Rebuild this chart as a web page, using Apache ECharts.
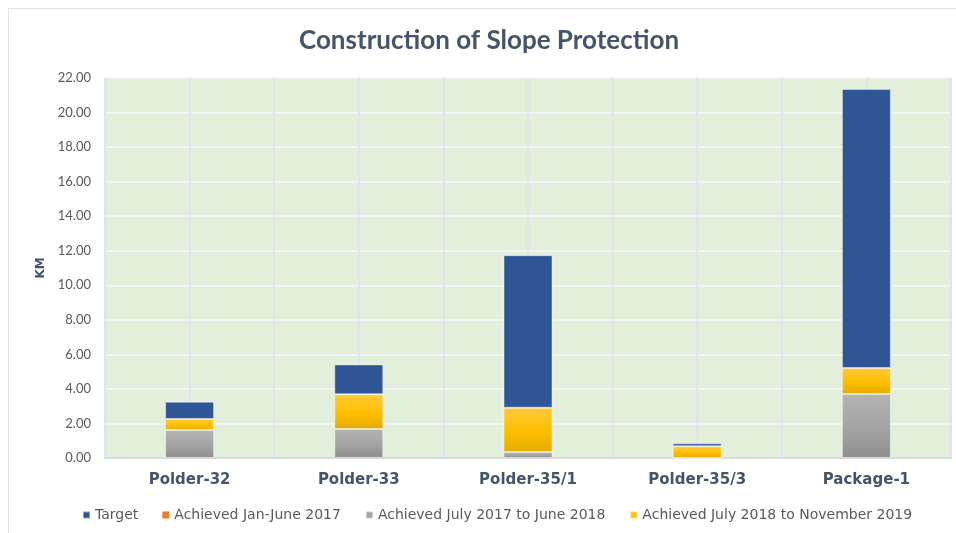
<!DOCTYPE html>
<html>
<head>
<meta charset="utf-8">
<script src="https://cdn.jsdelivr.net/npm/echarts@6/dist/echarts.min.js"></script>
<style>
html,body{margin:0;padding:0;background:#fff;}
#frame{position:absolute;left:8px;top:8px;width:960px;height:540px;border:1.5px solid #dfe1e5;box-sizing:border-box;}
#chart{position:absolute;left:0;top:0;width:956px;height:533px;}
</style>
</head>
<body>
<div id="frame"></div>
<div id="chart"></div>
<script>
const categories = ['Polder-32', 'Polder-33', 'Polder-35/1', 'Polder-35/3', 'Package-1'];
const achievedJul17Jun18 = [1.62, 1.68, 0.35, 0, 3.70];
const achievedJanJun17 = [0, 0, 0, 0, 0];
const achievedJul18Nov19 = [0.64, 2.01, 2.56, 0.68, 1.51];
const target = [1.00, 1.73, 8.83, 0.17, 16.16];
const yTicks = { min: 0, max: 22, interval: 2 };

const chart = echarts.init(document.getElementById('chart'));
const grayGrad = new echarts.graphic.LinearGradient(0, 0, 0, 1, [
  { offset: 0, color: '#b3b3b3' }, { offset: 0.5, color: '#a5a5a5' }, { offset: 1, color: '#8e8e8e' }]);
const yellowGrad = new echarts.graphic.LinearGradient(0, 0, 0, 1, [
  { offset: 0, color: '#ffc83d' }, { offset: 0.5, color: '#ffc000' }, { offset: 1, color: '#e6ab00' }]);
const barBorder = { borderColor: 'rgba(255,255,255,0.45)', borderWidth: 1 };
const halfCats = [];
categories.forEach(c => { halfCats.push(c + 'a'); halfCats.push(c + 'b'); });

chart.setOption({
  animation: false,
  title: {
    text: 'Construction of Slope Protection', left: 294, top: 23,
    textStyle: { fontFamily: 'Lato', fontWeight: 'bold', fontSize: 26, color: '#44546A' }
  },
  legend: {
    bottom: 6, left: 77, itemWidth: 7, itemHeight: 7, itemGap: 24, icon: 'rect',
    textStyle: { fontFamily: 'DejaVu Sans', fontSize: 14, color: '#595959' },
    data: [
      { name: 'Target', itemStyle: { color: '#2F5597' } },
      { name: 'Achieved Jan-June 2017', itemStyle: { color: '#ED7D31' } },
      { name: 'Achieved July 2017 to June 2018', itemStyle: { color: '#A5A5A5' } },
      { name: 'Achieved July 2018 to November 2019', itemStyle: { color: '#FFC000' } }
    ]
  },
  grid: {
    left: 105, right: 5, top: 78, bottom: 75, show: true,
    backgroundColor: '#E2EFDA', borderColor: '#e4e6ec', borderWidth: 1
  },
  xAxis: [{
    type: 'category', data: categories,
    axisLine: { show: true, lineStyle: { color: '#d9dbe0', width: 2 } },
    axisTick: { show: false },
    axisLabel: { fontFamily: 'DejaVu Sans', fontWeight: 'bold', fontSize: 15, color: '#44546A', margin: 15, interval: 0 },
    splitLine: { show: false }
  }, {
    type: 'category', data: halfCats, position: 'top',
    axisLine: { show: false }, axisTick: { show: false }, axisLabel: { show: false, interval: 0 },
    splitLine: { show: true, interval: 0, lineStyle: { color: '#e2e4ec', width: 2 } }
  }],
  yAxis: {
    type: 'value', min: yTicks.min, max: yTicks.max, interval: yTicks.interval,
    name: 'KM', nameLocation: 'middle', nameGap: 58, nameRotate: 90,
    nameTextStyle: { fontFamily: 'DejaVu Sans', fontWeight: 'bold', fontSize: 12, color: '#44546A' },
    axisLabel: { fontFamily: 'Lato', fontSize: 13, color: '#595959', margin: 14,
      formatter: v => v.toFixed(2) },
    axisLine: { show: false }, axisTick: { show: false },
    splitLine: { show: true, lineStyle: { color: '#f4f4f6', width: 2 } }
  },
  series: [
    { name: 'Achieved July 2017 to June 2018', type: 'bar', stack: 's', data: achievedJul17Jun18,
      barWidth: 49, itemStyle: Object.assign({ color: grayGrad }, barBorder) },
    { name: 'Achieved Jan-June 2017', type: 'bar', stack: 's', data: achievedJanJun17,
      barWidth: 49, itemStyle: { color: '#ED7D31' } },
    { name: 'Achieved July 2018 to November 2019', type: 'bar', stack: 's', data: achievedJul18Nov19,
      barWidth: 49, itemStyle: Object.assign({ color: yellowGrad }, barBorder) },
    { name: 'Target', type: 'bar', stack: 's', data: target,
      barWidth: 49, itemStyle: Object.assign({ color: '#2F5597' }, barBorder) }
  ]
});
</script>
</body>
</html>
